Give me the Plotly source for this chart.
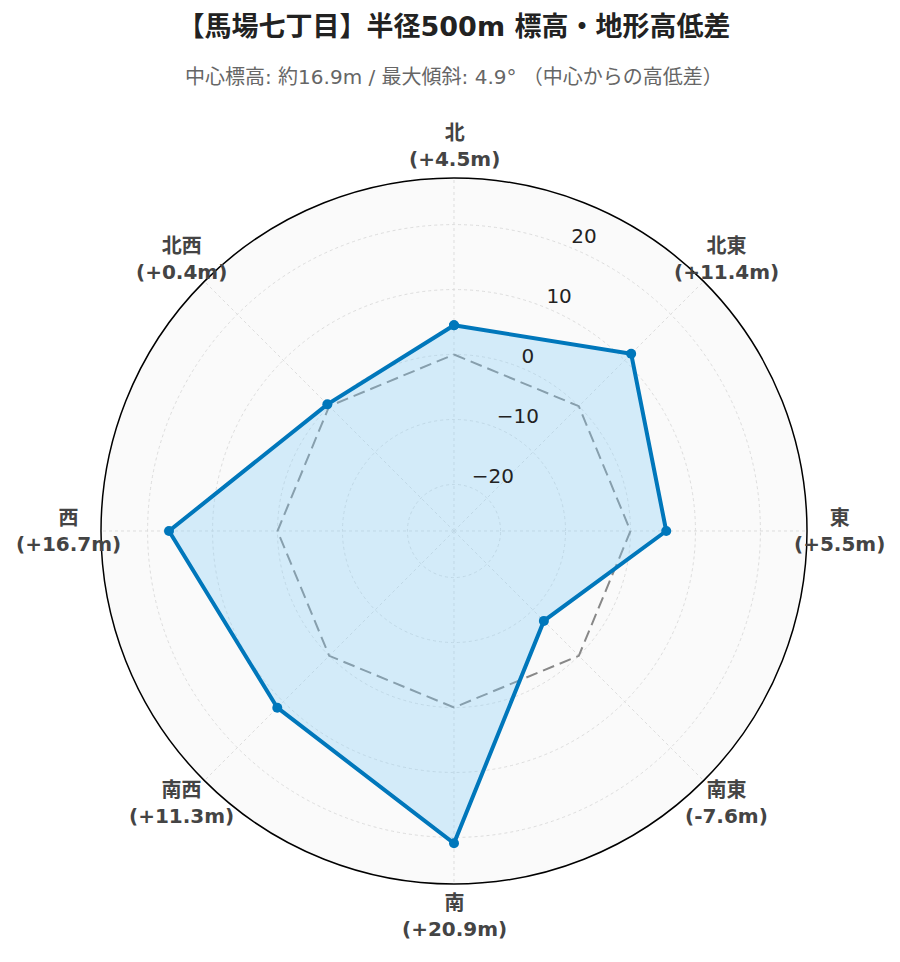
import math
import plotly.graph_objects as go

directions = ["北", "北東", "東", "南東", "南", "南西", "西", "北西"]
bearings = [0, 45, 90, 135, 180, 225, 270, 315]
diffs = [4.5, 11.4, 5.5, -7.6, 20.9, 11.3, 16.7, 0.4]
baseline = [0, 0, 0, 0, 0, 0, 0, 0]
radial_ticks = [-20, -10, 0, 10, 20]
radial_tick_labels = ["−20", "−10", "0", "10", "20"]
title_text = "【馬場七丁目】半径500m 標高・地形高低差"
subtitle_text = "中心標高: 約16.9m / 最大傾斜: 4.9° （中心からの高低差）"

labels = [f"<b>{d}<br>({v:+.1f}m)</b>" for d, v in zip(directions, diffs)]
theta = bearings + [bearings[0]]

rmax = max(abs(v) for v in diffs) * 1.3
label_k = 1.091  # label distance relative to outer circle
tick_theta = 22.5  # bearing of radial tick label column

fig = go.Figure()
fig.add_trace(go.Scatterpolar(
    r=baseline + [baseline[0]], theta=theta, mode="lines",
    line=dict(color="#888888", width=2, dash="12px,6px"),
    hoverinfo="skip", showlegend=False,
))
fig.add_trace(go.Scatterpolar(
    r=diffs + [diffs[0]], theta=theta, mode="lines+markers",
    fill="toself", fillcolor="rgba(135,206,250,0.33)",
    line=dict(color="#0077BB", width=4),
    marker=dict(size=10, color="#0077BB"),
    showlegend=False,
))
fig.add_trace(go.Scatterpolar(
    r=radial_ticks, theta=[tick_theta] * len(radial_ticks), mode="text",
    text=radial_tick_labels, textposition="top right",
    textfont=dict(size=20, color="#222222"),
    hoverinfo="skip", showlegend=False,
))

annotations = []
for i, lab in enumerate(labels):
    a = math.radians(bearings[i])
    annotations.append(dict(
        x=0.5 + 0.5 * label_k * math.sin(a), y=0.5 + 0.5 * label_k * math.cos(a),
        xref="paper", yref="paper", text=lab, showarrow=False,
        xanchor="center", yanchor="middle", align="center",
        font=dict(size=20, color="#444444"),
    ))
annotations.append(dict(
    x=0.5, y=1.143, xref="paper", yref="paper", text=subtitle_text,
    showarrow=False, xanchor="center", yanchor="middle",
    font=dict(size=20, color="#666666"),
))

fig.update_layout(
    width=900, height=962,
    paper_bgcolor="white",
    font=dict(family="DejaVu Sans, Noto Sans CJK JP, sans-serif", color="#333333"),
    title=dict(
        text=f"<b>{title_text}</b>",
        x=0.5, xref="paper", xanchor="center", y=1 - 19 / 962, yanchor="middle",
        font=dict(size=27, color="#222222"),
    ),
    annotations=annotations,
    margin=dict(l=93, r=101, t=170, b=86),
    polar=dict(
        bgcolor="#fafafa",
        radialaxis=dict(
            range=[-rmax, rmax], tickvals=radial_ticks,
            showline=False, showticklabels=False,
            gridcolor="#dddddd", griddash="dot", ticks="",
        ),
        angularaxis=dict(
            direction="clockwise", rotation=90,
            tickmode="array", tickvals=bearings,
            showline=True, linecolor="black", linewidth=1.5,
            gridcolor="#dddddd", griddash="dot",
            showticklabels=False, ticks="",
        ),
    ),
)

fig.write_html("out.html")
